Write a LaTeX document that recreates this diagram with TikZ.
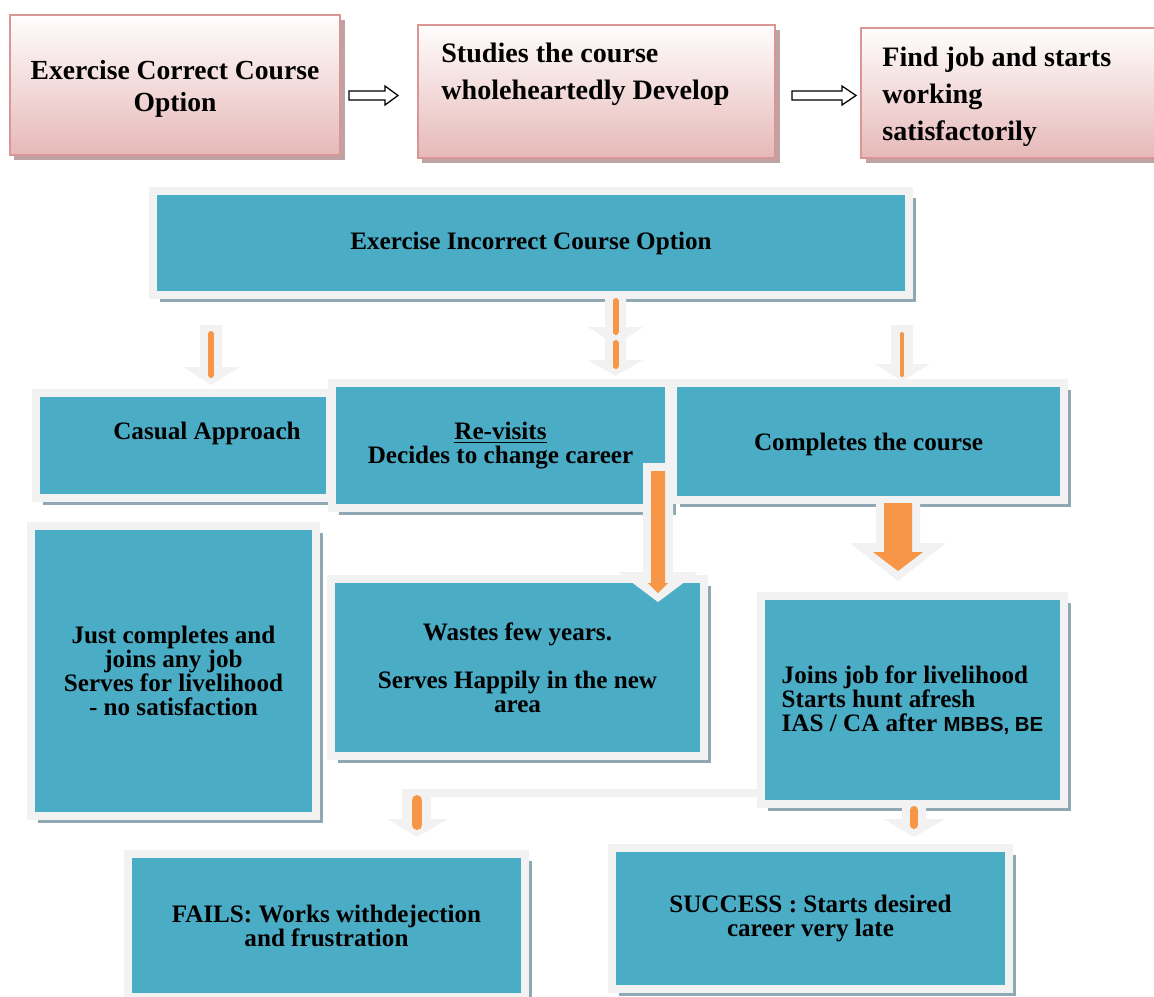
\documentclass[tikz,border=0pt]{standalone}
\usepackage{fontspec}
\setmainfont{Liberation Serif}
\newfontfamily\labelsans{Liberation Sans}
\usepackage{xcolor}
\usetikzlibrary{shadows}

\definecolor{tealfill}{HTML}{4BACC6}
\definecolor{framegrey}{HTML}{F2F2F2}
\definecolor{tealshadow}{HTML}{8FA8B3}
\definecolor{pinktop}{HTML}{FFFDFD}
\definecolor{pinkbottom}{HTML}{E6B9B8}
\definecolor{pinkborder}{HTML}{D99694}
\definecolor{pinkshadow}{HTML}{BDA3A3}
\definecolor{arroworange}{HTML}{F79646}

\begin{document}
\begin{tikzpicture}[x=0.2mm, y=-0.2mm,
  pinkbox/.style={draw=pinkborder, line width=0.4mm, top color=pinktop, bottom color=pinkbottom,
    drop shadow={shadow xshift=0.9mm, shadow yshift=-0.9mm, fill=pinkshadow, opacity=1}},
  toptext/.style={align=left, inner sep=0pt, font=\bfseries\fontsize{16}{21}\selectfont},
  tealbox/.style={draw=framegrey, line width=1.6mm, fill=tealfill, align=center, inner sep=0pt,
    font=\bfseries\fontsize{14.3}{13.6}\selectfont,
    drop shadow={shadow xshift=1.4mm, shadow yshift=-1.4mm, fill=tealshadow, opacity=1}},
  tealtext/.style={align=center, inner sep=0pt, font=\bfseries\fontsize{14.3}{13.6}\selectfont},
  hollowarrow/.style={draw=black, line width=0.25mm, fill=white},
  greyarrow/.style={fill=framegrey},
  orangehead/.style={fill=arroworange},
  orangebar/.style={draw=arroworange, line cap=round}]
  \useasboundingbox (0,0) rectangle (1154,997);

  % correct option (top row)
  \node[pinkbox, minimum width=66mm, minimum height=28mm] (correct) at (175,85) {};
  \node[toptext, align=center, font=\bfseries\fontsize{15.7}{18}\selectfont] (correcttxt) at (175,89)
    {Exercise Correct Course\\Option};
  \node[pinkbox, minimum width=71.4mm, minimum height=26.6mm] (studies) at (596.5,91.5) {};
  \node[toptext, anchor=west] (studiestxt) at (441,74.5) {Studies the course\\wholeheartedly Develop};
  \node[pinkbox, minimum width=60.8mm, minimum height=26mm] (findjob) at (1013,93) {};
  \node[toptext, anchor=west] (findjobtxt) at (882,97) {Find job and starts\\working\\satisfactorily};

  \draw[hollowarrow] (349,91) -- (385,91) -- (385,86) -- (398,95.5) -- (385,105) -- (385,100) -- (349,100) -- cycle;
  \draw[hollowarrow] (792,91) -- (842,91) -- (842,86) -- (856,95.5) -- (842,105) -- (842,100) -- (792,100) -- cycle;

  % incorrect option
  \node[tealbox, minimum width=151.2mm, minimum height=20.8mm] (incorrect) at (531,243) {Exercise Incorrect Course Option};

  \node[tealbox, minimum width=58.8mm, minimum height=21mm] (casual) at (183,445.5) {};
  \node[tealtext] (casualtxt) at (207,433) {Casual Approach};
  \node[tealbox, minimum width=67.4mm, minimum height=25mm] (revisits) at (500.5,445.5) {\underline{Re-visits}\\Decides to change career};
  \node[tealbox, minimum width=78.2mm, minimum height=23.4mm] (completes) at (868.5,441.5) {};
  \node[tealtext] (completestxt) at (868.5,444) {Completes the course};

  \node[tealbox, minimum width=57mm, minimum height=58mm] (anyjob) at (173.5,671)
    {Just completes and\\joins any job\\Serves for livelihood\\- no satisfaction};
  \node[tealbox, minimum width=74.6mm, minimum height=35.4mm] (wastes) at (517.5,667.5)
    {Wastes few years.\\[13.6pt]Serves Happily in the new\\area};
  \node[tealbox, minimum width=60.6mm, minimum height=41.6mm, align=left] (livelihood) at (912.5,700)
    {Joins job for livelihood\\Starts hunt afresh\\IAS / CA after {\labelsans\fontsize{11.6}{13.6}\selectfont MBBS, BE}};

  \node[tealbox, minimum width=79.4mm, minimum height=28.6mm] (fails) at (326.5,925.5) {FAILS: Works withdejection\\and frustration};
  \node[tealbox, minimum width=79.4mm, minimum height=28.2mm] (success) at (810.5,918.5) {SUCCESS : Starts desired\\career very late};

  % block arrows
  \fill[greyarrow] (200,325) -- (222,325) -- (222,367) -- (240,367) -- (211,385) -- (183,367) -- (200,367) -- cycle;
  \draw[orangebar, line width=1.2mm] (211,334) -- (211,375);

  \fill[greyarrow] (605,298) -- (626,298) -- (626,327) -- (643,327) -- (615.5,345) -- (588,327) -- (605,327) -- cycle;
  \fill[greyarrow] (605,333) -- (626,333) -- (626,360) -- (643,360) -- (615.5,376) -- (588,360) -- (605,360) -- cycle;
  \draw[orangebar, line width=1.2mm] (615.5,301) -- (615.5,332);
  \draw[orangebar, line width=1.2mm] (615.5,343) -- (615.5,366);

  \fill[greyarrow] (891,325) -- (913,325) -- (913,364) -- (930,364) -- (902,381) -- (875,364) -- (891,364) -- cycle;
  \draw[orangebar, line width=0.8mm] (902,334) -- (902,375);

  \fill[greyarrow] (643,463) -- (673,463) -- (673,572) -- (698,572) -- (658,602) -- (618,572) -- (643,572) -- cycle;
  \fill[orangehead] (651,471) -- (665,471) -- (665,583) -- (668,583) -- (658,593) -- (648,583) -- (651,583) -- cycle;

  \fill[greyarrow] (876,500) -- (920,500) -- (920,543) -- (946,543) -- (898,581) -- (850,543) -- (876,543) -- cycle;
  \fill[orangehead] (884,503) -- (912,503) -- (912,552) -- (923,552) -- (898,571) -- (873,552) -- (884,552) -- cycle;

  \fill[greyarrow] (402,789) -- (757,789) -- (757,797) -- (431,797) -- (431,819) -- (448,819) -- (417,837)
    -- (387,819) -- (402,819) -- cycle;
  \draw[orangebar, line width=2mm] (417,800) -- (417,825);

  \fill[greyarrow] (902,804) -- (926,804) -- (926,819) -- (945,819) -- (914,837) -- (883,819) -- (902,819) -- cycle;
  \draw[orangebar, line width=1.6mm] (914,810) -- (914,825);
\end{tikzpicture}
\end{document}
